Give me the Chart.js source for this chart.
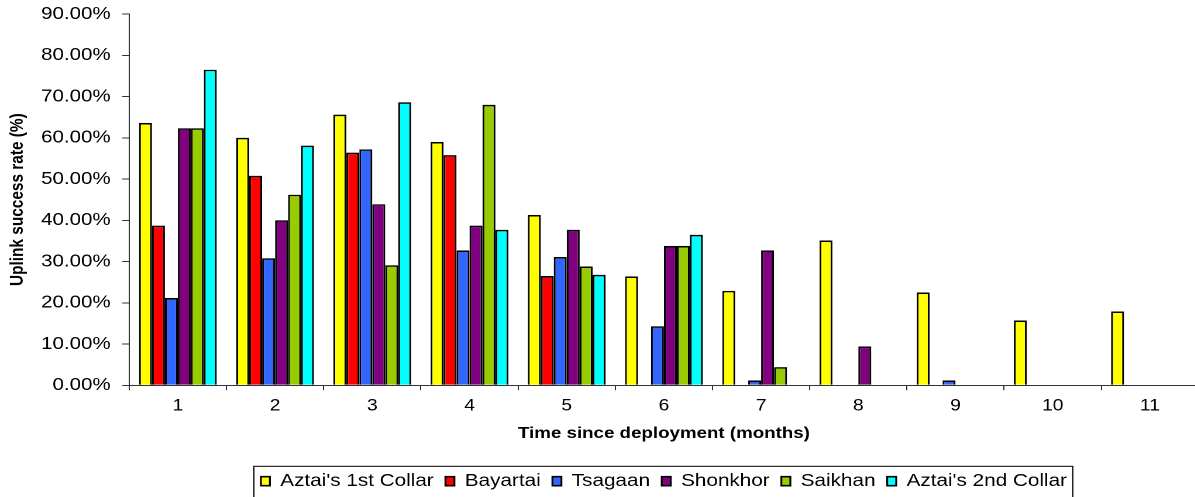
<!DOCTYPE html>
<html>
<head>
<meta charset="utf-8">
<script src="https://cdn.jsdelivr.net/npm/chart.js@4/dist/chart.umd.min.js"></script>
<style>
  html, body { margin: 0; padding: 0; overflow: hidden; background: #fff; width: 1195px; height: 497px; }
  /* the chart is laid out narrower and widened, which gives the broad lettering */
  #wrap { position: absolute; left: 0; top: 0; width: 1026px; height: 500px; transform: scaleX(1.17); transform-origin: 0 0; }
</style>
</head>
<body>
<div id="wrap"><canvas id="c"></canvas></div>
<script>
// Months since deployment
const months = ['1', '2', '3', '4', '5', '6', '7', '8', '9', '10', '11'];

// Uplink success rate (%) per collar and month
const aztai1st = [63.6, 60.0, 65.6, 59.0, 41.3, 26.4, 22.9, 35.1, 22.5, 15.7, 17.9];
const bayartai = [38.7, 50.8, 56.4, 55.8, 26.5, null, null, null, null, null, null];
const tsagaan  = [21.2, 30.8, 57.2, 32.7, 31.1, 14.3, 1.2, null, 1.2, null, null];
const shonkhor = [62.3, 40.0, 43.9, 38.7, 37.7, 33.8, 32.7, 9.4, null, null, null];
const saikhan  = [62.3, 46.2, 29.1, 68.0, 28.8, 33.8, 4.4, null, null, null, null];
const aztai2nd = [76.5, 58.1, 68.6, 37.7, 26.8, 36.5, null, null, null, null, null];

const seriesNames = ["Aztai's 1st Collar", 'Bayartai', 'Tsagaan', 'Shonkhor', 'Saikhan', "Aztai's 2nd Collar"];
const seriesData = [aztai1st, bayartai, tsagaan, shonkhor, saikhan, aztai2nd];
const seriesColors = ['#FFFF00', '#FF0000', '#3366FF', '#800080', '#99CC00', '#00FFFF'];

const yTicks = [0, 10, 20, 30, 40, 50, 60, 70, 80, 90];

const FONT = "'Liberation Sans', Arial, Helvetica, sans-serif";
Chart.defaults.font.family = FONT;
Chart.defaults.color = '#000';

// Frame drawn around the legend row
const legendFrame = {
  id: 'legendFrame',
  afterDraw(chart) {
    const lg = chart.legend;
    if (!lg || !lg.legendHitBoxes || !lg.legendHitBoxes.length) return;
    const hb = lg.legendHitBoxes;
    const first = hb[0], last = hb[hb.length - 1];
    const x0 = first.left - 6;
    const x1 = last.left + last.width + 5;
    const y0 = first.top - 6;
    const y1 = first.top + first.height + 8;
    const ctx = chart.ctx;
    ctx.save();
    ctx.strokeStyle = '#000';
    ctx.lineWidth = 1;
    ctx.strokeRect(x0, y0, x1 - x0, y1 - y0);
    ctx.restore();
  }
};

new Chart(document.getElementById('c'), {
  type: 'bar',
  data: {
    labels: months,
    datasets: seriesNames.map((name, i) => ({
      label: name,
      data: seriesData[i],
      backgroundColor: seriesColors[i],
      borderColor: '#000',
      borderWidth: 1.6,
      categoryPercentage: 0.8,
      barPercentage: 1.0
    }))
  },
  options: {
    responsive: true,
    maintainAspectRatio: false,
    animation: false,
    devicePixelRatio: 2,
    layout: { padding: { top: 14, right: 1.6, bottom: 0, left: 0 } },
    plugins: {
      tooltip: { enabled: false },
      legend: {
        position: 'bottom',
        fullSize: false,
        labels: {
          boxWidth: 7.7,
          boxHeight: 9,
          padding: 10,
          color: '#000',
          font: { size: 17.7, family: FONT }
        }
      }
    },
    scales: {
      x: {
        offset: true,
        grid: { offset: true, drawOnChartArea: false, drawTicks: true, tickLength: 5, color: '#333', lineWidth: 1 },
        border: { display: true, color: '#333', width: 1 },
        ticks: { padding: 6, font: { size: 16.5 }, color: '#000', maxRotation: 0 },
        title: {
          display: true,
          text: 'Time since deployment (months)',
          font: { size: 16, weight: 'bold' },
          color: '#000',
          padding: { top: 0, bottom: 19 }
        },
        afterFit(scale) { scale.height = 77; }
      },
      y: {
        min: 0,
        max: 90,
        afterBuildTicks(scale) { scale.ticks = yTicks.map(v => ({ value: v })); },
        grid: { drawOnChartArea: false, drawTicks: true, tickLength: 6, color: '#333', lineWidth: 1 },
        border: { display: true, color: '#333', width: 1 },
        ticks: {
          padding: 10,
          font: { size: 17.5 },
          color: '#000',
          callback: v => Number(v).toFixed(2) + '%'
        },
        title: {
          display: true,
          text: 'Uplink success rate (%)',
          font: { size: 15.4, weight: 'bold' },
          color: '#000',
          padding: { top: 6, bottom: 0 }
        },
        afterFit(scale) {
          scale.width = 110.5;
          scale.paddingTop = 6;
          scale.paddingBottom = 0;
        }
      }
    }
  },
  plugins: [legendFrame]
});
</script>
</body>
</html>
